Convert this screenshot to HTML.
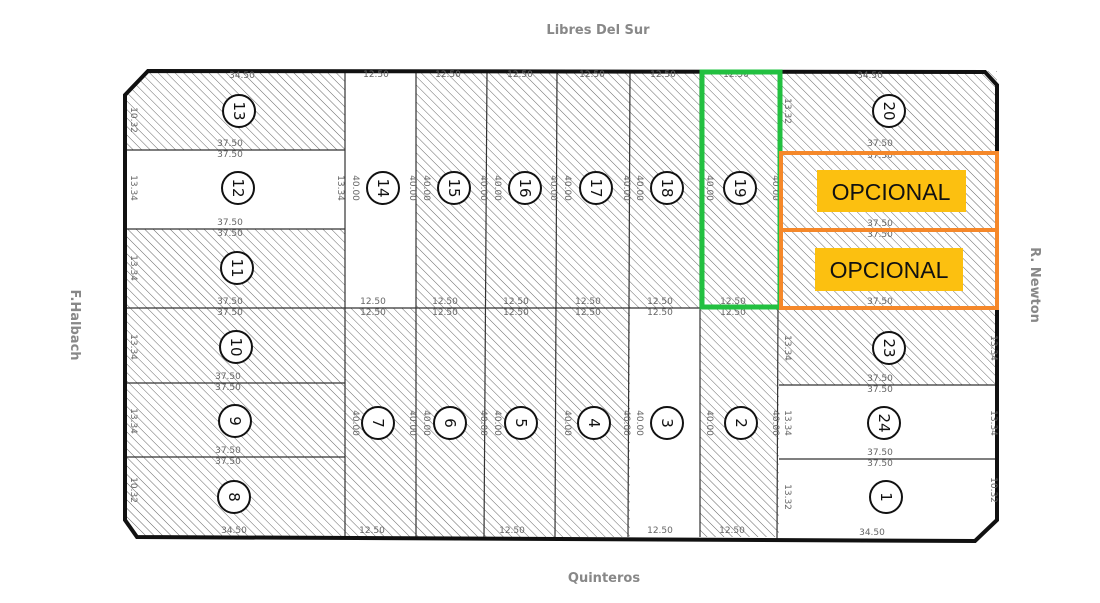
<!DOCTYPE html>
<html><head><meta charset="utf-8"><style>
body{margin:0;background:#fff;}
svg{display:block;font-family:"DejaVu Sans","Liberation Sans",sans-serif;}
.d{font-size:9px;fill:#666;}
.n{font-size:15px;fill:#111;}
</style></head><body>
<svg width="1100" height="603" viewBox="0 0 1100 603" xmlns="http://www.w3.org/2000/svg">
<defs>
<pattern id="h" width="6" height="6" patternUnits="userSpaceOnUse" patternTransform="rotate(-45)">
<line x1="0" y1="0" x2="0" y2="6" stroke="#555" stroke-width="0.9"/>
</pattern>
</defs>
<rect width="1100" height="603" fill="#fff"/>
<g fill="url(#h)">
<rect x="125" y="71" width="220" height="79"/>
<rect x="125" y="229" width="220" height="308"/>
<rect x="416" y="71" width="363" height="237"/>
<rect x="345" y="308" width="285" height="229"/>
<rect x="700" y="308" width="79" height="229"/>
<rect x="779" y="71" width="218" height="314"/>
</g>
<polygon points="100,60 148,60 148,71 125,95 100,95" fill="#fff"/>
<polygon points="100,520 125,520 137,537 100,560" fill="#fff"/>
<polygon points="997,520 1010,520 1010,560 975,541" fill="#fff"/>
<g stroke="#333" stroke-width="1.2" fill="none">
<line x1="125" y1="150" x2="345" y2="150"/><line x1="125" y1="229" x2="345" y2="229"/>
<line x1="125" y1="308" x2="997" y2="308"/><line x1="125" y1="383" x2="345" y2="383"/>
<line x1="125" y1="457" x2="345" y2="457"/>
<line x1="345" y1="71" x2="345" y2="537"/><line x1="416" y1="71" x2="416" y2="537"/>
<line x1="487" y1="71" x2="484" y2="537"/><line x1="557" y1="71" x2="555" y2="537"/>
<line x1="630" y1="71" x2="628" y2="537"/><line x1="700" y1="71" x2="700" y2="537"/>
<line x1="779" y1="71" x2="777" y2="540"/>
<line x1="779" y1="152" x2="997" y2="152"/><line x1="779" y1="230" x2="997" y2="230"/>
<line x1="779" y1="385" x2="997" y2="385"/><line x1="779" y1="459" x2="997" y2="459"/>
</g>
<polygon points="148,71 985,72 997,85 997,520 975,541 137,537 125,520 125,95" fill="none" stroke="#111" stroke-width="4"/>
<g fill="#fff" stroke="#111" stroke-width="2">
<circle cx="239" cy="111" r="16"/><circle cx="238" cy="188" r="16"/><circle cx="237" cy="268" r="16"/>
<circle cx="236" cy="347" r="16"/><circle cx="235" cy="421" r="16"/><circle cx="234" cy="497" r="16"/>
<circle cx="383" cy="188" r="16"/><circle cx="454" cy="188" r="16"/><circle cx="525" cy="188" r="16"/>
<circle cx="596" cy="188" r="16"/><circle cx="667" cy="188" r="16"/><circle cx="740" cy="188" r="16"/>
<circle cx="378" cy="423" r="16"/><circle cx="450" cy="423" r="16"/><circle cx="521" cy="423" r="16"/>
<circle cx="594" cy="423" r="16"/><circle cx="667" cy="423" r="16"/><circle cx="741" cy="423" r="16"/>
<circle cx="889" cy="111" r="16"/><circle cx="889" cy="348" r="16"/><circle cx="884" cy="423" r="16"/>
<circle cx="886" cy="497" r="16"/>
</g>
<g class="n" text-anchor="middle">
<text transform="translate(239,111) rotate(90)" y="5">13</text>
<text transform="translate(238,188) rotate(90)" y="5">12</text>
<text transform="translate(237,268) rotate(90)" y="5">11</text>
<text transform="translate(236,347) rotate(90)" y="5">10</text>
<text transform="translate(235,421) rotate(90)" y="5">9</text>
<text transform="translate(234,497) rotate(90)" y="5">8</text>
<text transform="translate(383,188) rotate(90)" y="5">14</text>
<text transform="translate(454,188) rotate(90)" y="5">15</text>
<text transform="translate(525,188) rotate(90)" y="5">16</text>
<text transform="translate(596,188) rotate(90)" y="5">17</text>
<text transform="translate(667,188) rotate(90)" y="5">18</text>
<text transform="translate(740,188) rotate(90)" y="5">19</text>
<text transform="translate(378,423) rotate(90)" y="5">7</text>
<text transform="translate(450,423) rotate(90)" y="5">6</text>
<text transform="translate(521,423) rotate(90)" y="5">5</text>
<text transform="translate(594,423) rotate(90)" y="5">4</text>
<text transform="translate(667,423) rotate(90)" y="5">3</text>
<text transform="translate(741,423) rotate(90)" y="5">2</text>
<text transform="translate(889,111) rotate(90)" y="5">20</text>
<text transform="translate(889,348) rotate(90)" y="5">23</text>
<text transform="translate(884,423) rotate(90)" y="5">24</text>
<text transform="translate(886,497) rotate(90)" y="5">1</text>
</g>
<g class="d" text-anchor="middle">
<text x="242" y="78">34.50</text><text x="376" y="77">12.50</text><text x="448" y="77">12.50</text>
<text x="520" y="77">12.50</text><text x="592" y="77">12.50</text><text x="663" y="77">12.50</text>
<text x="736" y="77">12.50</text><text x="870" y="78">34.50</text>
<text x="230" y="146">37.50</text><text x="230" y="157">37.50</text>
<text x="230" y="225">37.50</text><text x="230" y="236">37.50</text>
<text x="230" y="304">37.50</text><text x="230" y="315">37.50</text>
<text x="228" y="379">37.50</text><text x="228" y="390">37.50</text>
<text x="228" y="453">37.50</text><text x="228" y="464">37.50</text>
<text x="880" y="146">37.50</text><text x="880" y="158">37.50</text>
<text x="880" y="226">37.50</text><text x="880" y="237">37.50</text>
<text x="880" y="304">37.50</text><text x="880" y="381">37.50</text><text x="880" y="392">37.50</text>
<text x="880" y="455">37.50</text><text x="880" y="466">37.50</text>
<text x="373" y="304">12.50</text><text x="373" y="315">12.50</text>
<text x="445" y="304">12.50</text><text x="445" y="315">12.50</text>
<text x="516" y="304">12.50</text><text x="516" y="315">12.50</text>
<text x="588" y="304">12.50</text><text x="588" y="315">12.50</text>
<text x="660" y="304">12.50</text><text x="660" y="315">12.50</text>
<text x="733" y="304">12.50</text><text x="733" y="315">12.50</text>
<text x="234" y="533">34.50</text><text x="372" y="533">12.50</text><text x="512" y="533">12.50</text>
<text x="660" y="533">12.50</text><text x="732" y="533">12.50</text><text x="872" y="535">34.50</text>
<text transform="translate(131,188) rotate(90)">13.34</text>
<text transform="translate(131,268) rotate(90)">13.34</text>
<text transform="translate(131,347) rotate(90)">13.34</text>
<text transform="translate(131,421) rotate(90)">13.34</text>
<text transform="translate(131,120) rotate(90)">10.32</text>
<text transform="translate(131,490) rotate(90)">10.32</text>
<text transform="translate(338,188) rotate(90)">13.34</text>
<text transform="translate(353,188) rotate(90)">40.00</text>
<text transform="translate(410,188) rotate(90)">40.00</text>
<text transform="translate(424,188) rotate(90)">40.00</text>
<text transform="translate(481,188) rotate(90)">40.00</text>
<text transform="translate(495,188) rotate(90)">40.00</text>
<text transform="translate(551,188) rotate(90)">40.00</text>
<text transform="translate(565,188) rotate(90)">40.00</text>
<text transform="translate(624,188) rotate(90)">40.00</text>
<text transform="translate(637,188) rotate(90)">40.00</text>
<text transform="translate(707,188) rotate(90)">40.00</text>
<text transform="translate(773,188) rotate(90)">40.00</text>
<text transform="translate(353,423) rotate(90)">40.00</text>
<text transform="translate(410,423) rotate(90)">40.00</text>
<text transform="translate(424,423) rotate(90)">40.00</text>
<text transform="translate(481,423) rotate(90)">40.00</text>
<text transform="translate(495,423) rotate(90)">40.00</text>
<text transform="translate(565,423) rotate(90)">40.00</text>
<text transform="translate(624,423) rotate(90)">40.00</text>
<text transform="translate(637,423) rotate(90)">40.00</text>
<text transform="translate(707,423) rotate(90)">40.00</text>
<text transform="translate(773,423) rotate(90)">40.00</text>
<text transform="translate(785,111) rotate(90)">13.32</text>
<text transform="translate(785,348) rotate(90)">13.34</text>
<text transform="translate(785,423) rotate(90)">13.34</text>
<text transform="translate(785,497) rotate(90)">13.32</text>
<text transform="translate(991,423) rotate(90)">13.34</text>
<text transform="translate(991,348) rotate(90)">13.34</text>
<text transform="translate(991,490) rotate(90)">10.32</text>
</g>
<g font-weight="bold" fill="#888" font-size="13" text-anchor="middle">
<text x="598" y="34">Libres Del Sur</text>
<text x="604" y="582">Quinteros</text>
<text transform="translate(71,325) rotate(90)">F.Halbach</text>
<text transform="translate(1031,285) rotate(90)">R. Newton</text>
</g>
<rect x="702" y="72" width="78" height="235" fill="none" stroke="#22c040" stroke-width="5"/>
<rect x="781" y="153" width="216" height="77" fill="none" stroke="#f5882a" stroke-width="4"/>
<rect x="781" y="230" width="216" height="78" fill="none" stroke="#f5882a" stroke-width="4"/>
<rect x="817" y="170" width="149" height="42" fill="#fcc010"/>
<rect x="815" y="248" width="148" height="43" fill="#fcc010"/>
<g font-family="Liberation Sans, sans-serif" font-size="23" fill="#111" text-anchor="middle">
<text x="891" y="200">OPCIONAL</text>
<text x="889" y="278">OPCIONAL</text>
</g>
</svg>
</body></html>
